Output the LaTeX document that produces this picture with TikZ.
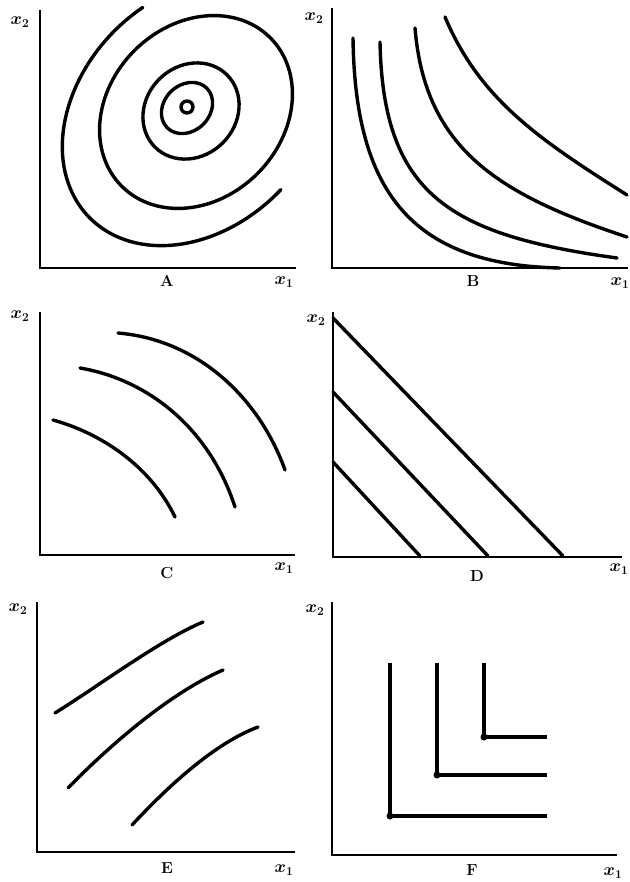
\documentclass[tikz,border=0pt]{standalone}
\usepackage{bm}
\begin{document}
\begin{tikzpicture}[x=1pt,y=1pt,
  axisline/.style={line width=2.6pt},
  curveline/.style={line width=3.4pt,line cap=round},
  lbl/.style={inner sep=0pt,font=\fontsize{17}{17}\selectfont},
  plab/.style={inner sep=0pt,font=\fontsize{16}{16}\selectfont\bfseries}]
\useasboundingbox[fill=white] (0,0) rectangle (629,-882);
% ---------- Panel A ----------
\draw[axisline] (40,-10) -- (40,-268) -- (296,-268);
\node[lbl] (ax2) at (20,-22) {$\bm{x}_{\mathbf 2}$};
\node[lbl] (ax1) at (284,-282) {$\bm{x}_{\mathbf 1}$};
\node[plab] (aA) at (167,-281) {A};
\draw[curveline] (187,-107) circle[radius=6];
\draw[curveline,rotate around={45:(187,-108)}] (187,-108) ellipse[x radius=28,y radius=23];
\draw[curveline,rotate around={45:(191,-111)}] (191,-111) ellipse[x radius=51,y radius=45];
\draw[curveline,rotate around={45:(196,-112)}] (196,-112) ellipse[x radius=105,y radius=87];
\draw[curveline,rotate around={45:(196,-112)}] (196,-112) ++(76:150 and 115)
   arc[start angle=76,end angle=272,x radius=150,y radius=115];
% ---------- Panel B ----------
\draw[axisline] (332,-8) -- (332,-268) -- (628,-268);
\node[lbl] (bx2) at (314,-18) {$\bm{x}_{\mathbf 2}$};
\node[lbl] (bx1) at (620,-283) {$\bm{x}_{\mathbf 1}$};
\node[plab] (bB) at (473,-281) {B};
\draw[curveline] (353,-38) .. controls (355,-190) and (410,-265) .. (560,-268);
\draw[curveline] (380,-42) .. controls (383,-195) and (450,-235) .. (617,-258);
\draw[curveline] (415,-28) .. controls (425,-150) and (500,-195) .. (627,-237);
\draw[curveline] (445,-17) .. controls (480,-100) and (540,-140) .. (627,-195);
% ---------- Panel C ----------
\draw[axisline] (40,-312) -- (40,-555) -- (295,-555);
\node[lbl] (cx2) at (20,-316) {$\bm{x}_{\mathbf 2}$};
\node[lbl] (cx1) at (284,-568) {$\bm{x}_{\mathbf 1}$};
\node[plab] (cC) at (167,-573) {C};
\draw[curveline] (53,-420) .. controls (100,-433) and (150,-465) .. (175,-517);
\draw[curveline] (80,-368) .. controls (150,-380) and (210,-430) .. (235,-507);
\draw[curveline] (118,-333) .. controls (200,-340) and (260,-400) .. (285,-470);
% ---------- Panel D ----------
\draw[axisline] (333,-312) -- (333,-557) -- (622,-557);
\node[lbl] (dx2) at (316,-320) {$\bm{x}_{\mathbf 2}$};
\node[lbl] (dx1) at (619,-569) {$\bm{x}_{\mathbf 1}$};
\node[plab] (dD) at (477,-576) {D};
\draw[curveline] (333,-318) -- (563,-556);
\draw[curveline] (333,-392) -- (488,-556);
\draw[curveline] (333,-462) -- (420,-556);
% ---------- Panel E ----------
\draw[axisline] (37,-602) -- (37,-852) -- (295,-852);
\node[lbl] (ex2) at (18,-609) {$\bm{x}_{\mathbf 2}$};
\node[lbl] (ex1) at (284,-870) {$\bm{x}_{\mathbf 1}$};
\node[plab] (eE) at (167,-868) {E};
\draw[curveline] (55,-713) .. controls (100,-685) and (160,-640) .. (203,-622);
\draw[curveline] (68,-788) .. controls (110,-745) and (170,-693) .. (223,-670);
\draw[curveline] (132,-825) .. controls (160,-795) and (210,-745) .. (258,-727);
% ---------- Panel F ----------
\draw[axisline] (332,-602) -- (332,-855) -- (617,-855);
\node[lbl] (fx2) at (315,-610) {$\bm{x}_{\mathbf 2}$};
\node[lbl] (fx1) at (613,-873) {$\bm{x}_{\mathbf 1}$};
\node[plab] (fF) at (472,-870) {F};
\draw[curveline,line cap=butt] (390,-663) -- (390,-816) -- (547,-816);
\draw[curveline,line cap=butt] (437,-663) -- (437,-775) -- (547,-775);
\draw[curveline,line cap=butt] (484,-663) -- (484,-737) -- (547,-737);
\fill (390,-816) circle[radius=3.5];
\fill (437,-775) circle[radius=3.5];
\fill (484,-737) circle[radius=3.5];
\end{tikzpicture}
\end{document}
